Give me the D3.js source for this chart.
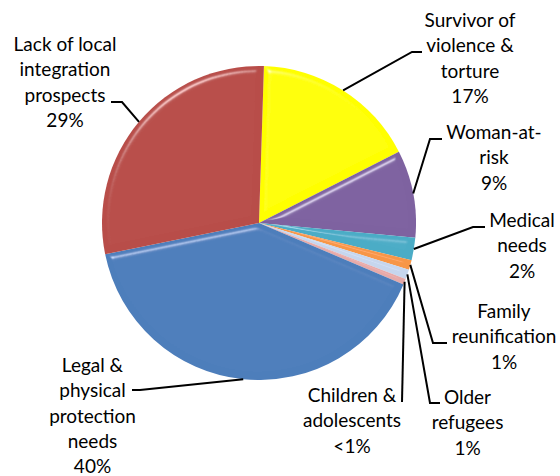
<!DOCTYPE html>
<html>
<head>
<meta charset="utf-8">
<script src="https://cdn.jsdelivr.net/npm/d3@7"></script>
<style>
  html, body { margin: 0; padding: 0; background: #fff; }
  svg { display: block; }
  .lbl { font-family: Lato, "Open Sans", sans-serif; font-size: 19px; fill: #000; }
</style>
</head>
<body>
<svg id="chart" width="560" height="476"></svg>
<script>
// Reasons for resettlement submission, share of cases (%), clockwise from 12 o'clock
const categories = [
  "Survivor of violence & torture",
  "Woman-at-risk",
  "Medical needs",
  "Family reunification",
  "Older refugees",
  "Children & adolescents",
  "Legal & physical protection needs",
  "Lack of local integration prospects"
];
const values = [17.0, 9.0, 2.3, 1.0, 1.0, 0.6, 40.4, 28.7];

// Label text broken into lines (percent line appended from the value)
const labelLines = [
  ["Survivor of", "violence &", "torture"],
  ["Woman-at-", "risk"],
  ["Medical", "needs"],
  ["Family", "reunification"],
  ["Older", "refugees"],
  ["Children &", "adolescents"],
  ["Legal &", "physical", "protection", "needs"],
  ["Lack of local", "integration", "prospects"]
];

const colors = ["#FFFF00", "#7E62A0", "#4BACC6", "#F79646", "#C6D6EE", "#E6A9A8", "#4E7EBB", "#B84E4A"];

// Layout: label centre x, first baseline y, and leader elbow / end points
const labelX = [470, 494, 522, 504, 467.5, 352, 92.5, 65];
const labelY = [27, 139, 227, 318, 404, 402, 372, 51];
const leaderElbow = [[412, 52], [430, 139], [473, 227], [433, 343], [430, 403], [402, 402], [140, 390], [122, 102]];
const leaderEnd = [[422, 52], [442, 139], [485, 227], [447, 343], [440, 403], [402, 402], [132, 390], [111, 102]];

const cx = 259, cy = 223, R = 157;
const lineH = 25.3;

const svg = d3.select("#chart");

// Soft bevel: specular highlight only on edges facing the light
const defs = svg.append("defs");
const f = defs.append("filter").attr("id", "bevel")
  .attr("x", "-10%").attr("y", "-10%").attr("width", "120%").attr("height", "120%");
f.append("feGaussianBlur").attr("in", "SourceAlpha").attr("stdDeviation", 3).attr("result", "blur");
const spec = f.append("feSpecularLighting").attr("in", "blur")
  .attr("surfaceScale", 5).attr("specularConstant", 0.45).attr("specularExponent", 50)
  .attr("lighting-color", "#ffffff").attr("result", "spec");
spec.append("feDistantLight").attr("azimuth", 240).attr("elevation", 40);
f.append("feComposite").attr("in", "spec").attr("in2", "SourceAlpha").attr("operator", "in").attr("result", "specIn");
f.append("feComposite").attr("in", "SourceGraphic").attr("in2", "specIn")
  .attr("operator", "arithmetic").attr("k1", 0).attr("k2", 1).attr("k3", 1).attr("k4", 0);

const start = 1.8 * Math.PI / 180;
const pie = d3.pie().sort(null).value(d => d)
  .startAngle(start).endAngle(start + 2 * Math.PI);
const arcs = pie(values);
const arc = d3.arc().innerRadius(0).outerRadius(R);

const g = svg.append("g").attr("transform", `translate(${cx},${cy})`);
g.selectAll("path.slice")
  .data(arcs)
  .join("path")
  .attr("class", "slice")
  .attr("d", arc)
  .attr("fill", (d, i) => colors[i])
  .attr("filter", "url(#bevel)");

// Leader lines: from the rim at the slice's mid-angle to the label
const line = d3.line();
arcs.forEach((d, i) => {
  const a = (d.startAngle + d.endAngle) / 2;
  const rim = [cx + R * Math.sin(a), cy - R * Math.cos(a)];
  svg.append("path")
    .attr("d", line([rim, leaderElbow[i], leaderEnd[i]]))
    .attr("fill", "none")
    .attr("stroke", "#000")
    .attr("stroke-width", 2);
});

// Labels
const pctText = v => v < 1 ? "<1%" : Math.round(v) + "%";
labelLines.forEach((lines, i) => {
  const all = lines.concat([pctText(values[i])]);
  const t = svg.append("text").attr("class", "lbl").attr("text-anchor", "middle");
  all.forEach((s, k) => {
    t.append("tspan").attr("x", labelX[i]).attr("y", labelY[i] + k * lineH).text(s);
  });
});
</script>
</body>
</html>
